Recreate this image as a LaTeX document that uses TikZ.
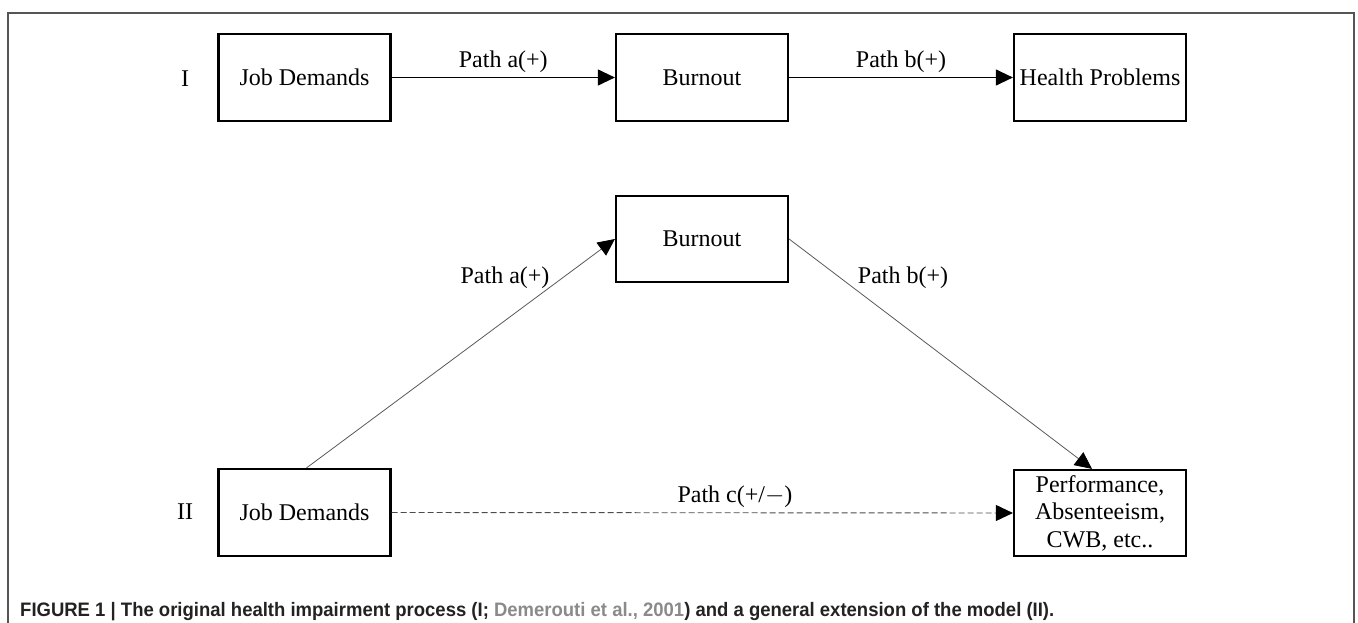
\documentclass[tikz,border=0pt]{standalone}
\usepackage{fontspec}
\usepackage{graphicx}
\setmainfont{Liberation Serif}
\newfontfamily\capfont{Liberation Sans}
\usetikzlibrary{arrows.meta}
\definecolor{framegray}{HTML}{555555}
\definecolor{captext}{HTML}{222222}
\definecolor{citegray}{HTML}{8A8A8A}
\begin{document}
\begin{tikzpicture}[x=1pt,y=-1pt,
  box/.style={draw=black,line width=2.2pt,minimum width=172pt,minimum height=87pt,inner sep=0pt,align=center,font=\fontsize{24}{27.5}\selectfont},
  lbl/.style={inner sep=0pt,font=\fontsize{24}{27.5}\selectfont},
  conn/.style={line width=1.1pt,-{Triangle[length=17pt,width=16pt]}},
  diag/.style={line width=0.8pt,draw=black!65,-{Triangle[length=17pt,width=16pt,color=black,fill=black]}},
  dconn/.style={line width=0.9pt,draw=black!70,dash pattern=on 6pt off 3pt,-{Triangle[length=17pt,width=16pt,color=black,fill=black]}}]
\useasboundingbox (0,0) rectangle (1358,623);
\draw[framegray,line width=1.4pt] (8,623) -- (8,13) -- (1354,13) -- (1354,623);
% Row I
\node[box] (jd1) at (304.5,77.5) {Job Demands};
\node[box] (bo1) at (702,77.5) {Burnout};
\node[box] (hp1) at (1100,77.5) {Health Problems};
\node[lbl] (r1) at (185,79) {I};
\draw[conn] (jd1.east) -- (bo1.west) node[lbl,midway,above=4pt] (la1) {Path a(+)};
\draw[conn] (bo1.east) -- (hp1.west) node[lbl,midway,above=4pt] (lb1) {Path b(+)};
% Row II
\node[box,minimum height=86pt] (bo2) at (702,239) {Burnout};
\node[box] (jd2) at (304.5,512.5) {Job Demands};
\node[box,minimum height=86pt] (pf2) at (1100,513) {Performance,\\Absenteeism,\\CWB, etc..};
\node[lbl] (r2) at (185,512) {II};
\draw[diag] ([xshift=2pt]jd2.north) -- (bo2.west);
\draw[diag] (bo2.east) -- ([xshift=-8pt]pf2.north);
\draw[dconn] (jd2.east) -- (pf2.west);
\node[lbl] (la2) at (505,278) {Path a(+)};
\node[lbl] (lb2) at (903,278) {Path b(+)};
\node[lbl] (lc2) at (735,497) {Path c(+/$-$)};
% Caption
\node[anchor=base west,inner sep=0pt,text=captext] (cap) at (20,616) {\resizebox{1034pt}{\height}{\capfont\bfseries\fontsize{19.5}{22}\selectfont FIGURE 1 | The original health impairment process (I; \textcolor{citegray}{Demerouti et al., 2001}) and a general extension of the model (II).}};
\end{tikzpicture}
\end{document}
